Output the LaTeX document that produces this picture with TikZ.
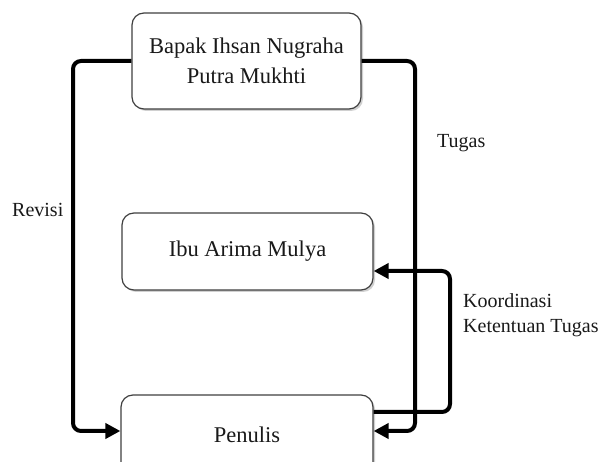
\documentclass[tikz,border=0pt]{standalone}
\usepackage{fontspec}
\setmainfont{Liberation Serif}
\usetikzlibrary{arrows.meta,shadows}
\begin{document}
\begin{tikzpicture}[x=1pt,y=-1pt,
  box/.style={draw=black!75,line width=1.2pt,rounded corners=12pt,fill=white,
    drop shadow={shadow xshift=2pt,shadow yshift=-2pt,fill=black!30,opacity=0.6},
    inner sep=0pt,align=center,font=\fontsize{22.5}{30}\selectfont,text=black!90},
  conn/.style={line width=4pt,rounded corners=8pt,-{Triangle[length=15pt,width=15pt]}},
  lbl/.style={font=\fontsize{20}{25}\selectfont,text=black!90,inner sep=0pt}]
\clip (0,0) rectangle (603,462);
\useasboundingbox (0,0) rectangle (603,462);
\fill[white] (0,0) rectangle (603,462);
\node[box,minimum width=229pt,minimum height=96pt] (top) at (246.5,61) {Bapak Ihsan Nugraha\\Putra Mukhti};
\node[box,minimum width=251pt,minimum height=77pt] (ibu) at (247.5,251.5) {Ibu Arima Mulya};
\node[box,minimum width=252pt,minimum height=80pt] (pen) at (247,435) {Penulis};
\coordinate (lx) at (73,0);
\coordinate (rx) at (415,0);
\coordinate (kx) at (450,0);
\coordinate (penlin) at ([yshift=4pt]pen.west);
\coordinate (penrin) at ([yshift=4pt]pen.east);
\coordinate (penout) at ([yshift=23pt]pen.east);
\coordinate (ibuin) at ([yshift=-19.5pt]ibu.east);
\draw[conn] (top.west) -- (lx |- top.west) |- (penlin);
\draw[conn] (top.east) -- (rx |- top.east) |- (penrin);
\draw[conn] (penout) -- (kx |- penout) |- (ibuin);
\node[lbl,anchor=west] (tugas) at (437,143) {Tugas};
\node[lbl,anchor=west] (revisi) at (12,210) {Revisi};
\node[lbl,anchor=west,align=left] (koord) at (463,315) {Koordinasi\\Ketentuan Tugas};
\end{tikzpicture}
\end{document}
